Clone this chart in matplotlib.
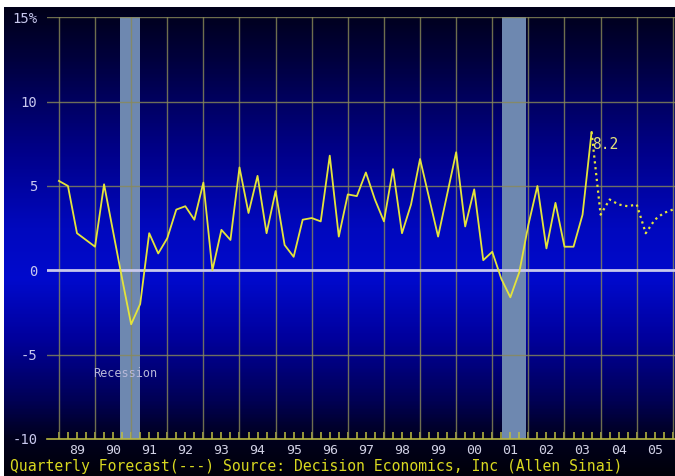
import numpy as np
import matplotlib
matplotlib.use("Agg")
import matplotlib.pyplot as plt
from matplotlib.colors import LinearSegmentedColormap

# ---- data (quarterly real GDP growth, % annual rate) ----
start_year = 1989.0
actual = [5.3, 5.0, 2.2, 1.8, 1.4, 5.1, 2.3, -0.5, -3.2, -2.0,
          2.2, 1.0, 1.9, 3.6, 3.8, 3.0, 5.2, 0.0, 2.4, 1.8,
          6.1, 3.4, 5.6, 2.2, 4.7, 1.5, 0.8, 3.0, 3.1, 2.9,
          6.8, 2.0, 4.5, 4.4, 5.8, 4.2, 2.9, 6.0, 2.2, 3.9,
          6.6, 4.3, 2.0, 4.5, 7.0, 2.6, 4.8, 0.6, 1.1, -0.5,
          -1.6, -0.1, 2.7, 5.0, 1.3, 4.0, 1.4, 1.4, 3.3, 8.2]
forecast = [8.2, 3.3, 4.2, 3.9, 3.8, 3.9, 2.2, 3.0, 3.4, 3.6]
recessions = [(1990.69, 1991.24), (2001.27, 2001.94)]
year_labels = ['89', '90', '91', '92', '93', '94', '95', '96', '97',
               '98', '99', '00', '01', '02', '03', '04', '05']
y_ticks = [-10, -5, 0, 5, 10, 15]
y_labels = ['-10', '-5', '0', '5', '10', '15%']
peak_label = '8.2'
source_text = 'Quarterly Forecast(---) Source: Decision Economics, Inc (Allen Sinai)'

x_act = start_year + 0.25 * np.arange(len(actual))
x_fc = x_act[-1] + 0.25 * np.arange(len(forecast))

W, H = 675, 476
fig = plt.figure(figsize=(W / 100, H / 100), dpi=100, facecolor='white')

# ---- gradient background ----
bg = fig.add_axes([4 / W, 0, (W - 4) / W, (H - 7) / H])
bg.set_axis_off()
stops = [(0.0, (0, 0, 25)), (0.12, (0, 0, 65)), (0.30, (0, 0, 135)),
         (0.47, (0, 8, 190)), (0.58, (0, 10, 205)), (0.71, (0, 0, 155)),
         (0.84, (0, 0, 85)), (0.92, (0, 0, 30)), (1.0, (0, 0, 10))]
cmap = LinearSegmentedColormap.from_list(
    'bgc', [(p, tuple(c / 255 for c in col)) for p, col in stops])
grad = np.linspace(0, 1, 400).reshape(-1, 1)
bg.imshow(grad, aspect='auto', cmap=cmap, extent=[0, 1, 0, 1], origin='upper')
bg.set_xlim(0, 1)
bg.set_ylim(0, 1)

# ---- main axes ----
top_px, bot_px = 17.3, 439.0
ax = fig.add_axes([47 / W, (H - bot_px) / H, (W - 47) / W, (bot_px - top_px) / H])
ax.patch.set_alpha(0)
ax.set_xlim(1988.67, 2006.06)
ax.set_ylim(-10, 15)

for a, b in recessions:
    ax.axvspan(a, b, color='#6e88b0', zorder=1, lw=0)

grid_c = '#8a8a58'
for yv in [5, 10, 15, -5]:
    ax.axhline(yv, color=grid_c, lw=1.0, zorder=2, alpha=0.8)
for yr in range(1989, 2007):
    ax.axvline(yr, color=grid_c, lw=1.0, zorder=2, alpha=0.8)
ax.axhline(0, color='#c8c8ec', lw=2.0, zorder=2)

ax.plot(x_act, actual, color='#e4e43a', lw=1.3, zorder=4)
ax.plot(x_fc, forecast, color='#e4e43a', lw=1.6, ls=':', zorder=4)

mono = 'DejaVu Sans Mono'
ax.text(x_act[-1] + 0.02, 7.43, peak_label, color='#e2e27a', fontsize=10.5,
        family=mono, ha='left', va='center', zorder=5)
ax.text(1989.94, -6.13, 'Recession', color='#b8b8d8', fontsize=8.5,
        family=mono, ha='left', va='center', zorder=5)

# axes styling
for s in ['top', 'right', 'left']:
    ax.spines[s].set_visible(False)
ax.spines['bottom'].set_color('#b8b840')
ax.spines['bottom'].set_linewidth(1.2)

ax.xaxis.remove_overlapping_locs = False
ax.set_xticks(np.arange(1989.5, 2006, 1.0))
ax.set_xticklabels(year_labels, family=mono)
ax.tick_params(axis='x', which='major', length=0, pad=3.5,
               labelcolor='#d0d0e4', labelsize=9.5)
ax.set_xticks(np.arange(1989.0, 2006.01, 0.25), minor=True)
ax.tick_params(axis='x', which='minor', bottom=True, direction='in',
               length=5, width=1.1, color='#c0c040')

ax.set_yticks(y_ticks)
ax.set_yticklabels(y_labels, family=mono)
ax.tick_params(axis='y', length=0, pad=7, labelcolor='#c8c8ee', labelsize=10)

fig.text(10 / W, (H - 471.5) / H, source_text, color='#d8d820',
         fontsize=10.6, family=mono, ha='left', va='baseline')

fig.savefig('out.png', dpi=100, facecolor='white')
